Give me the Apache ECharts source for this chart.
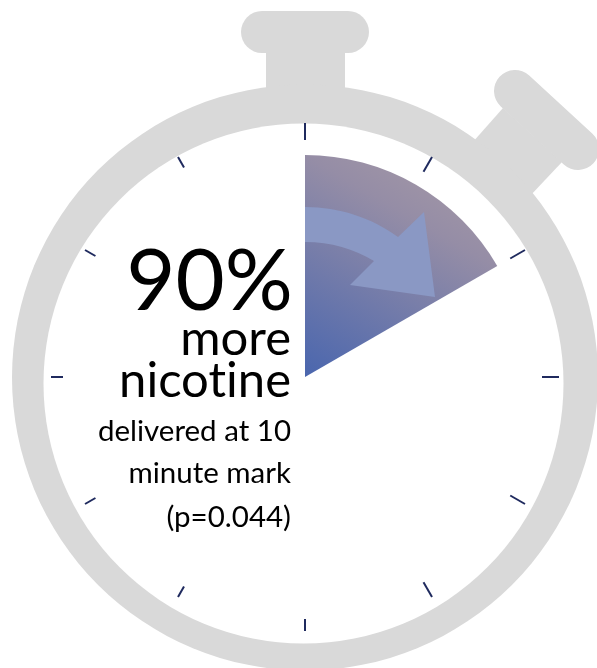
<!DOCTYPE html>
<html>
<head>
<meta charset="utf-8">
<style>html,body{margin:0;padding:0;background:#fff}#c{width:597px;height:668px}</style>
<script src="https://cdn.jsdelivr.net/npm/echarts@6/dist/echarts.min.js"></script>
</head>
<body>
<div id="c"></div>
<script>
// Data
var elapsedMinutes = [10];
var remainingMinutes = [50];
var headlineTexts = ['90%', 'more', 'nicotine'];
var detailTexts = ['delivered at 10', 'minute mark', '(p=0.044)'];

var GREY = '#D9D9D9', TICK = '#1F2A5E', FONT = 'Lato, Carlito, Calibri, sans-serif';

// Plain glyphs, no "ti" ligature in canvas text
var nativeGetContext = HTMLCanvasElement.prototype.getContext;
HTMLCanvasElement.prototype.getContext = function (t, o) {
  var c = nativeGetContext.call(this, t, o);
  if (c && t === '2d') c.textRendering = 'optimizeSpeed';
  return c;
};

var chart = echarts.init(document.getElementById('c'), null, {renderer: 'canvas'});

function tickGauge(start, end, splits, len) {
  return {
    type: 'gauge', center: [305, 377], radius: 254, startAngle: start, endAngle: end,
    min: 0, max: splits, splitNumber: splits, silent: true, z: 3,
    axisLine: {show: false, lineStyle: {width: 0}}, axisTick: {show: false}, axisLabel: {show: false},
    pointer: {show: false}, progress: {show: false}, anchor: {show: false},
    title: {show: false}, detail: {show: false},
    splitLine: {show: true, distance: 0, length: len, lineStyle: {color: TICK, width: 2, cap: 'butt'}},
    data: [{value: 0}]
  };
}

function textEl(str, x, y, size) {
  return {
    type: 'text', z: 20, silent: true, x: x, y: y,
    style: {text: str, x: 0, y: 0, align: 'right', verticalAlign: 'middle',
      font: size + 'px ' + FONT, fill: '#000'}
  };
}

chart.setOption({
  animation: false,
  backgroundColor: '#fff',
  series: [
    { // elapsed sector
      type: 'pie', center: [305, 377], radius: [0, 222], silent: true, z: 2,
      startAngle: 90, clockwise: true, label: {show: false}, labelLine: {show: false},
      data: [
        {value: elapsedMinutes[0], itemStyle: {
          color: new echarts.graphic.LinearGradient(305, 377, 417, 185, [
            {offset: 0, color: '#4A66AE'},
            {offset: 0.86, color: '#958DA6'},
            {offset: 1, color: '#9C92A6'}
          ], true)}},
        {value: remainingMinutes[0], itemStyle: {color: 'rgba(0,0,0,0)'}}
      ]
    },
    tickGauge(90, -60, 5, 17),
    tickGauge(270, 120, 5, 12),
    { // curved arrow over the sector
      type: 'custom', coordinateSystem: 'none', silent: true, z: 4, data: [[0]],
      renderItem: function () {
        return {type: 'path',
          shape: {pathData: 'M305 207 C340 207 372 218 398 237 L424 212 L435 297 L350 285 L374 261 C354 249 331 242 305 242 Z'},
          style: {fill: '#8A98C4'}};
      }
    }
  ],
  graphic: {elements: [
    {type: 'rect', z: 0, silent: true, shape: {x: 241, y: 11, width: 128, height: 42, r: 21}, style: {fill: GREY}},
    {type: 'rect', z: 0, silent: true, shape: {x: 266, y: 50, width: 79, height: 50}, style: {fill: GREY}},
    {type: 'polygon', z: 0, silent: true, shape: {points: [[503, 108], [472, 143], [529, 197], [562, 162]]}, style: {fill: GREY}},
    {type: 'line', z: 0, silent: true, shape: {x1: 515, y1: 91, x2: 578, y2: 149},
      style: {stroke: GREY, lineWidth: 42, lineCap: 'round'}},
    {type: 'circle', z: 0, silent: true, shape: {cx: 305, cy: 377.5, r: 293}, style: {fill: GREY}},
    {type: 'circle', z: 1, silent: true, shape: {cx: 303.5, cy: 383.5, r: 260}, style: {fill: '#fff'}},
    textEl(headlineTexts[0], 293, 283, 85),
    textEl(headlineTexts[1], 291, 339, 49),
    textEl(headlineTexts[2], 291, 381, 49),
    textEl(detailTexts[0], 291, 431, 29.5),
    textEl(detailTexts[1], 291, 473, 29.5),
    textEl(detailTexts[2], 291, 517, 29.5)
  ]}
});
</script>
</body>
</html>
